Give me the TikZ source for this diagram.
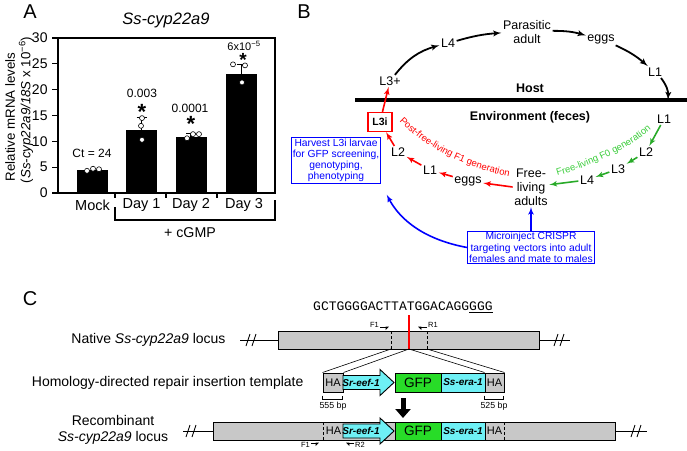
\documentclass[tikz,border=0pt]{standalone}
\usepackage{fontspec}
\setmainfont{Liberation Sans}
\newfontfamily\seqfont{Liberation Mono}
\usetikzlibrary{arrows,arrows.meta,decorations.text}
\newcommand{\fsz}[1]{\fontsize{#1pt}{\dimexpr #1pt*6/5\relax}\selectfont}
\newcommand{\curvefont}{\fontsize{9.5pt}{11pt}\selectfont}
\definecolor{genegray}{RGB}{200,200,200}
\definecolor{promcyan}{RGB}{110,240,245}
\definecolor{gfpgreen}{RGB}{40,220,40}
\definecolor{fzgreen}{RGB}{40,170,40}
\definecolor{fztext}{RGB}{60,205,60}
% break mark on a locus line
\newcommand{\cutmark}[2]{%
    \draw[line width=0.9pt] (#1-5,#2+6) -- (#1-1,#2-6) (#1+1,#2+6) -- (#1+5,#2-6);}
% promoter arrow with its label
\newcommand{\eefarrow}[2]{%
    \filldraw[fill=promcyan, line width=0.9pt] (343,#1-7) -- (380,#1-7) -- (380,#1-13)
        -- (394,#1) -- (380,#1+13) -- (380,#1+7) -- (343,#1+7) -- cycle;
    \node[font=\fsz{10}\bfseries\itshape] (#2) at (361,#1) {Sr-eef-1};}
\tikzset{
    axis/.style={line width=1.2pt},
    dot/.style={circle, draw=black, fill=white, inner sep=0pt, minimum size=5pt, line width=0.6pt},
    stage/.style={font=\fsz{12.5}, inner sep=1.5pt, align=center},
    cyc/.style={->,> = latex', line width=1.8pt, draw=black},
    fone/.style={->,> = latex', line width=1.6pt, draw=red},
    fzero/.style={->,> = latex', line width=1.6pt, draw=fzgreen},
    bluebox/.style={draw=blue, text=blue, line width=1pt, align=center, inner sep=1.5pt,
        font=\fontsize{10.3pt}{11.2pt}\selectfont},
    blarrow/.style={->,> = latex', line width=1.6pt, draw=blue},
    gene/.style={draw, fill=genegray, line width=1pt, inner sep=0pt},
    locus/.style={line width=1pt},
    primer/.style={font=\fsz{7.5}, inner sep=1pt},
    fwdp/.style={-{Triangle[right,length=3pt,width=6pt]}, line width=0.8pt},
    revp/.style={-{Triangle[left,length=3pt,width=6pt]}, line width=0.8pt},
    signif/.style={font=\fsz{22}\bfseries, inner sep=0pt, anchor=north},
}
\begin{document}
\begin{tikzpicture}[x=1pt,y=-1pt]
    \useasboundingbox (0,0) rectangle (687,450);

    % ---- A: expression levels
    \node[font=\fsz{20}] (labA) at (30,12) {A};
    \node[font=\fsz{16.5}\itshape] (titA) at (166,20) {Ss-cyp22a9};
    \node[rotate=90, font=\fsz{13.3}] (ytop) at (10,117) {Relative mRNA levels};
    \node[rotate=90, font=\fsz{13.3}] (ybot) at (26,110) {(\textit{Ss-cyp22a9/18S} x 10\textsuperscript{−6})};
    \draw[axis] (58,38) rectangle (275,193);
    \foreach \v in {0,5,...,30}
        \draw[axis] (58,{193-5.1667*\v}) -- (52,{193-5.1667*\v}) node[left=0.5pt, font=\fsz{14}] (yt\v) {\v};
    \foreach \x in {115,166,217}
        \draw[axis] (\x,193) -- (\x,198);
    \foreach \x/\v in {92.5/4.5,141.5/12.2,191/10.9,241.5/23.0}
        \fill (\x-15.5,193) rectangle (\x+15.5,{193-5.1667*\v});
    \foreach \x/\v/\e in {141.5/12.2/14.6,191/10.9/11.5,241.5/23.0/24.8}
        \draw[axis] (\x,{193-5.1667*\v}) -- (\x,{193-5.1667*\e})
            (\x-5,{193-5.1667*\e}) -- (\x+5,{193-5.1667*\e});
    \foreach \x/\v [count=\i] in {87/4.3,93/4.7,99/4.6,142/14.5,141/13.0,142/10.3,
            187/10.6,193/11.4,199/11.4,233/24.9,245/24.7,242/21.4}
        \node[dot] (pt\i) at (\x,{193-5.1667*\v}) {};
    \node[font=\fsz{12}] (ct) at (92,153) {Ct = 24};
    \node[font=\fsz{12}] (pv1) at (142,93) {0.003};
    \node[font=\fsz{12}] (pv2) at (190,108) {0.0001};
    \node[font=\fsz{11}] (pv3) at (244,46) {6x10\textsuperscript{−5}};
    \node[signif] (st1) at (142,104) {*};
    \node[signif] (st2) at (191,116) {*};
    \node[signif, font=\fsz{19}\bfseries] (st3) at (243,53) {*};
    \foreach \x/\t in {92.5/Mock,141.5/Day 1,191/Day 2,244/Day 3}
        \node[font=\fsz{14.5}] (xl\x) at (\x,205) {\t};
    \draw[axis] (115,207) -- (115,220) -- (275,220) -- (275,200);
    \node[font=\fsz{14.2}] (cgmp) at (190,233) {+ cGMP};

    % ---- B: life cycle
    \node[font=\fsz{20}] (labB) at (304,12) {B};
    \coordinate (hostW) at (355,100);
    \coordinate (hostE) at (687,100);
    \draw[line width=3.5pt] (hostW) -- (hostE);
    \node[font=\fsz{12.5}\bfseries] (host) at (530,88) {Host};
    \node[font=\fsz{12.5}\bfseries] (env) at (530,117) {Environment (feces)};

    \node[stage] (l3p) at (390,81) {L3+};
    \node[stage] (l4h) at (448,43) {L4};
    \node[stage, font=\fontsize{12.5pt}{14pt}\selectfont] (padult) at (527,32) {Parasitic\\adult};
    \node[stage] (eggsh) at (601,39) {eggs};
    \node[stage] (l1h) at (655,72) {L1};
    \coordinate (cross) at (668,100);
    \draw[cyc] (l3p) to[bend left=18] (l4h);
    \draw[cyc] (l4h) to[bend left=6] (padult);
    \draw[cyc] (padult) to[bend left=8] (eggsh);
    \draw[cyc] (eggsh) to[bend left=8] (l1h);
    \draw[cyc] (l1h) to[bend left=20] (cross);

    \node[stage] (l1e) at (664,119) {L1};
    \node[stage] (l2g) at (646,152) {L2};
    \node[stage] (l3g) at (618,169) {L3};
    \node[stage] (l4g) at (587,180) {L4};
    \node[stage, font=\fontsize{12.5pt}{14pt}\selectfont] (fla) at (531,187) {Free-\\living\\adults};
    \draw[fzero] (l1e) -- (l2g);
    \draw[fzero] (l2g) -- (l3g);
    \draw[fzero] (l3g) -- (l4g);
    \draw[fzero] (l4g) -- (fla);

    \node[stage] (eggsf) at (468,181) {eggs};
    \node[stage] (l1f) at (430,170) {L1};
    \node[stage] (l2f) at (398,152) {L2};
    \node[draw=red, line width=1.3pt, font=\fsz{10.5}\bfseries, inner sep=1pt,
        minimum width=24pt, minimum height=19pt] (l3i) at (380,122) {L3i};
    \draw[fone] (fla.west) -- (eggsf);
    \draw[fone] (eggsf) -- (l1f);
    \draw[fone] (l1f) -- (l2f);
    \draw[fone] (l2f) -- (l3i);
    \draw[fone] (l3i) -- (l3p);

    \path[decorate, decoration={text along path, text color=red, text align=center,
        text={|\curvefont|Post-free-living F1 generation}}]
        (394,115) .. controls (418,143) and (460,168) .. (517,178);
    \path[decorate, decoration={text along path, text color=fztext, text align=center,
        text={|\curvefont|Free-living F0 generation}}]
        (550,178) .. controls (585,169) and (630,150) .. (657,124);

    \node[bluebox] (harv) at (336,160.5) {Harvest L3i larvae\\for GFP screening,\\genotyping,\\phenotyping};
    \node[bluebox] (micro) at (531,247.5) {Microinject CRISPR\\targeting vectors into adult\\females and mate to males};
    \draw[blarrow] (micro.north) -- (fla.south);
    \draw[blarrow, shorten >=12pt] (micro.west) to[bend left=26] (harv.south east);

    % ---- C: knock-in at the locus
    \node[font=\fsz{20}] (labC) at (30,299) {C};
    \node[font=\seqfont\fsz{13}, anchor=west, inner sep=0pt] (seq) at (313,307) {GCTGGGGACTTATGGACAGG\underline{GGG}};

    \node[font=\fsz{14}, anchor=east] (natlab) at (229,340) {Native \textit{Ss-cyp22a9} locus};
    \node[gene, minimum width=261pt, minimum height=18pt] (nat) at (408.5,340) {};
    \coordinate (natW) at (240,340);
    \coordinate (natE) at (570,340);
    \draw[locus] (natW) -- (nat.west) (nat.east) -- (natE);
    \cutmark{251}{340}
    \cutmark{559}{340}
    \coordinate (dashL) at (391,349);
    \coordinate (dashR) at (427,349);
    \coordinate (cutT) at (409,315);
    \coordinate (cutB) at (409,349);
    \draw[densely dashed, line width=0.9pt] (391,331) -- (dashL) (427,331) -- (dashR);
    \draw[red, line width=2pt] (cutT) -- (cutB);
    \node[primer, anchor=east] (f1a) at (380,325) {F1};
    \draw[fwdp] ([yshift=-2pt]f1a.east) -- ++(9,0);
    \node[primer, anchor=west] (r1a) at (427,325) {R1};
    \draw[revp] ([yshift=-2pt]r1a.west) -- ++(-9,0);

    \node[font=\fsz{14}, anchor=east] (tmplab) at (307,383) {Homology-directed repair insertion template};
    \node[gene, minimum width=20pt, minimum height=19pt, font=\fsz{11}] (ha1) at (333,382.5) {HA};
    \eefarrow{382.5}{eef1}
    \node[gene, fill=gfpgreen, minimum width=46pt, minimum height=19pt, font=\fsz{13.6}] (gfp1) at (418,382.5) {GFP};
    \node[gene, fill=promcyan, minimum width=44pt, minimum height=19pt, font=\fsz{10}\bfseries\itshape] (era1) at (463,382.5) {Ss-era-1};
    \node[gene, minimum width=19pt, minimum height=19pt, font=\fsz{11}] (ha2) at (494.5,382.5) {HA};
    \draw[line width=0.6pt] (dashL) -- (ha1.north west) (cutB) -- (ha1.north east)
        (cutB) -- (ha2.north west) (dashR) -- (ha2.north east);
    \draw[line width=0.8pt] (ha1.south west) ++(0,3) -- ++(0,4) -- ++(20,0) -- ++(0,-4);
    \draw[line width=0.8pt] (ha2.south west) ++(0,3) -- ++(0,4) -- ++(19,0) -- ++(0,-4);
    \node[font=\fsz{8.8}] (bp1) at (333,406) {555 bp};
    \node[font=\fsz{8.8}] (bp2) at (494,406) {525 bp};
    \coordinate (dnT) at (403,398);
    \coordinate (dnB) at (403,418);
    \draw[line width=5pt, -{Triangle[length=9pt,width=15pt]}] (dnT) -- (dnB);

    \node[font=\fontsize{14pt}{15.5pt}\selectfont, align=center] (reclab) at (113,430) {Recombinant\\\textit{Ss-cyp22a9} locus};
    \node[gene, minimum width=402pt, minimum height=18pt] (rec) at (414,431) {};
    \coordinate (recW) at (183,431);
    \coordinate (recE) at (647,431);
    \draw[locus] (recW) -- (rec.west) (rec.east) -- (recE);
    \cutmark{191}{431}
    \cutmark{636}{431}
    \draw[densely dashed, line width=0.9pt] (323,422) -- (323,440) (504,422) -- (504,440);
    \node[font=\fsz{11}] (ha3) at (333.5,431) {HA};
    \eefarrow{431}{eef2}
    \node[gene, fill=gfpgreen, minimum width=46pt, minimum height=18pt, font=\fsz{13.6}] (gfp2) at (418,431) {GFP};
    \node[gene, fill=promcyan, minimum width=44pt, minimum height=18pt, font=\fsz{10}\bfseries\itshape] (era2) at (463,431) {Ss-era-1};
    \node[font=\fsz{11}] (ha4) at (494.5,431) {HA};
    \node[primer, anchor=east] (f1b) at (311,445) {F1};
    \draw[fwdp] ([yshift=2pt]f1b.east) -- ++(8,0);
    \node[primer, anchor=west] (r2b) at (354,445) {R2};
    \draw[revp] ([yshift=2pt]r2b.west) -- ++(-8,0);
\end{tikzpicture}
\end{document}
